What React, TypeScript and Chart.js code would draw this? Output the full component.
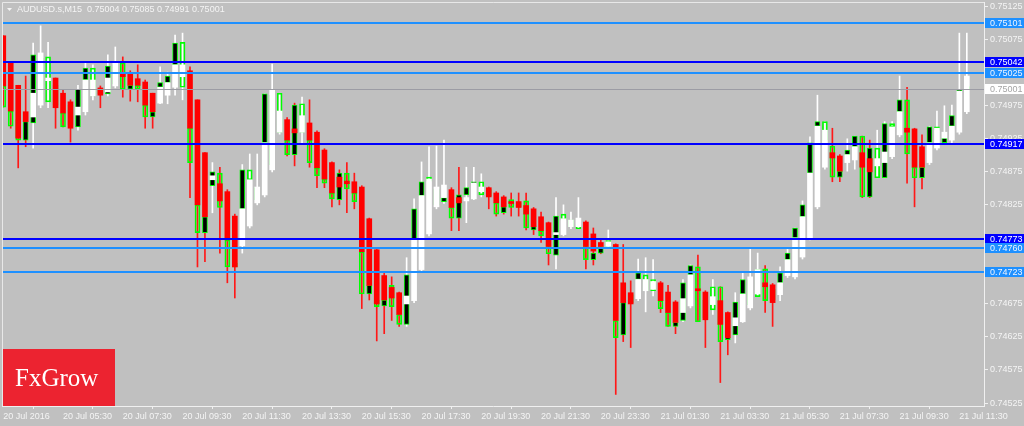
import React, { useEffect, useRef } from 'react';
import { Chart, registerables } from 'chart.js';

Chart.register(...registerables);

// ---------- DATA ----------
const headerSymbol = 'AUDUSD.s,M15';
const headerValues = [0.75004, 0.75085, 0.74991, 0.75001];

const xTickBars = [0, 8, 16, 24, 32, 40, 48, 56, 64, 72, 80, 88, 96, 104, 112, 120, 128];
const xTickLabels = [
  '20 Jul 2016', '20 Jul 05:30', '20 Jul 07:30', '20 Jul 09:30', '20 Jul 11:30', '20 Jul 13:30',
  '20 Jul 15:30', '20 Jul 17:30', '20 Jul 19:30', '20 Jul 21:30', '20 Jul 23:30', '21 Jul 01:30',
  '21 Jul 03:30', '21 Jul 05:30', '21 Jul 07:30', '21 Jul 09:30', '21 Jul 11:30',
];
const yTickValues = [
  0.74525, 0.74575, 0.74625, 0.74675, 0.74725, 0.74775, 0.74825, 0.74875, 0.74925,
  0.74975, 0.75025, 0.75075, 0.75125,
];

const levelValues = [0.75101, 0.75042, 0.75025, 0.75001, 0.74917, 0.74773, 0.7476, 0.74723];
const levelKinds = ['light', 'dark', 'light', 'bid', 'dark', 'dark', 'light', 'light'];

// Heiken-Ashi style bars (red / white)
const haOpen = [
  0.75081, 0.75041, 0.75006, 0.74966, 0.74958, 0.74976, 0.75013, 0.75017, 0.74994, 0.74981,
  0.74961, 0.74966, 0.7499, 0.75002, 0.74996, 0.75005, 0.75025, 0.75025, 0.75016, 0.75011,
  0.74994, 0.74979, 0.74991, 0.75003, 0.75019, 0.75028, 0.74984, 0.74904, 0.74863, 0.74857,
  0.74845, 0.74808, 0.74763, 0.74793, 0.74828, 0.7484, 0.74878, 0.74935, 0.74954, 0.7494,
  0.74935, 0.74949, 0.74935, 0.74908, 0.74889, 0.74867, 0.74861, 0.7486, 0.74852, 0.74804,
  0.74757, 0.74718, 0.747, 0.74692, 0.74675, 0.7468, 0.74727, 0.74781, 0.74822, 0.74836,
  0.74848, 0.74836, 0.74831, 0.74834, 0.74845, 0.74851, 0.74843, 0.74837, 0.7483, 0.7483,
  0.74824, 0.74819, 0.74807, 0.74798, 0.7478, 0.7478, 0.74792, 0.74792, 0.74799, 0.74781,
  0.74768, 0.74762, 0.74765, 0.74707, 0.74692, 0.74683, 0.74695, 0.74697, 0.74707, 0.74693,
  0.74678, 0.74662, 0.74672, 0.74698, 0.74693, 0.74674, 0.7468, 0.74662, 0.74642, 0.74648,
  0.74669, 0.7469, 0.74707, 0.74704, 0.74689, 0.74718, 0.74716, 0.74746, 0.74775, 0.74822,
  0.74882, 0.74904, 0.74899, 0.74889, 0.74893, 0.74904, 0.74895, 0.74884, 0.74889, 0.74898,
  0.74931, 0.74941, 0.7494, 0.74913, 0.74889, 0.74911, 0.74926, 0.74923, 0.74935, 0.74966,
];
const haClose = [
  0.75005, 0.74967, 0.74926, 0.74951, 0.74994, 0.75055, 0.75017, 0.74972, 0.74964, 0.74941,
  0.74973, 0.75014, 0.75014, 0.74991, 0.75017, 0.7504, 0.75019, 0.75006, 0.75006, 0.74976,
  0.74966, 0.75003, 0.7501, 0.75037, 0.75037, 0.74941, 0.74825, 0.74807, 0.74869, 0.74831,
  0.74772, 0.74731, 0.74819, 0.74863, 0.74852, 0.74919, 0.74999, 0.74967, 0.74923, 0.74934,
  0.7496, 0.74923, 0.74881, 0.74864, 0.74843, 0.74852, 0.74857, 0.74843, 0.74754, 0.74703,
  0.74675, 0.74681, 0.74684, 0.74659, 0.74687, 0.74772, 0.74839, 0.74864, 0.74852, 0.74855,
  0.74821, 0.74828, 0.74836, 0.74858, 0.74852, 0.74837, 0.74828, 0.74822, 0.74827, 0.74821,
  0.74811, 0.74792, 0.74786, 0.74762, 0.74783, 0.74804, 0.74802, 0.74805, 0.74762, 0.74755,
  0.74762, 0.74769, 0.7465, 0.74677, 0.74675, 0.74712, 0.74712, 0.74709, 0.7468, 0.74662,
  0.74647, 0.74683, 0.74719, 0.74695, 0.74651, 0.74686, 0.74644, 0.74624, 0.74654, 0.7469,
  0.74716, 0.74727, 0.74701, 0.74677, 0.74707, 0.74742, 0.74775, 0.74807, 0.74873, 0.74944,
  0.74938, 0.74896, 0.74876, 0.74901, 0.74913, 0.74882, 0.74875, 0.74895, 0.74905, 0.74943,
  0.74966, 0.74935, 0.74882, 0.74882, 0.74919, 0.74941, 0.74935, 0.74944, 0.74997, 0.7502,
];
const haHigh = [
  0.75081, 0.75041, 0.75006, 0.7502, 0.7507, 0.75096, 0.75071, 0.75017, 0.74999, 0.74984,
  0.75006, 0.7504, 0.75037, 0.75005, 0.75052, 0.75064, 0.75049, 0.75028, 0.75037, 0.75014,
  0.74994, 0.75034, 0.75026, 0.75082, 0.75085, 0.75034, 0.74984, 0.74904, 0.74889, 0.74882,
  0.74848, 0.74811, 0.74886, 0.74902, 0.74902, 0.74993, 0.75038, 0.74994, 0.74957, 0.74979,
  0.74988, 0.74984, 0.74937, 0.7491, 0.7489, 0.74878, 0.74889, 0.74873, 0.74854, 0.74805,
  0.74759, 0.74722, 0.74716, 0.74693, 0.74745, 0.74834, 0.7489, 0.74913, 0.74914, 0.74923,
  0.74851, 0.74882, 0.74882, 0.74882, 0.74872, 0.74852, 0.74845, 0.74839, 0.74843, 0.74843,
  0.74843, 0.74821, 0.74814, 0.74799, 0.74836, 0.74825, 0.74814, 0.74836, 0.74801, 0.7479,
  0.74772, 0.74787, 0.74766, 0.74765, 0.7471, 0.74743, 0.74745, 0.74742, 0.74709, 0.74703,
  0.7468, 0.74712, 0.74734, 0.74749, 0.74695, 0.74712, 0.74701, 0.74663, 0.74692, 0.74722,
  0.7476, 0.74752, 0.74733, 0.74706, 0.74731, 0.7476, 0.7479, 0.74831, 0.74928, 0.74991,
  0.74951, 0.74941, 0.74901, 0.74925, 0.74929, 0.74929, 0.74923, 0.74938, 0.74951, 0.74951,
  0.7502, 0.75003, 0.74941, 0.74931, 0.74944, 0.74967, 0.74975, 0.74976, 0.75085, 0.75085,
];
const haLow = [
  0.74973, 0.74941, 0.74881, 0.74913, 0.74911, 0.74972, 0.74972, 0.74941, 0.74943, 0.7492,
  0.74938, 0.74961, 0.74984, 0.74972, 0.7499, 0.75002, 0.74988, 0.74982, 0.74981, 0.74941,
  0.74941, 0.74978, 0.74978, 0.74991, 0.74984, 0.74836, 0.74731, 0.74739, 0.74813, 0.74752,
  0.74707, 0.74684, 0.74752, 0.7479, 0.74825, 0.74837, 0.74875, 0.74932, 0.74899, 0.74884,
  0.74916, 0.74882, 0.74851, 0.74851, 0.74822, 0.74825, 0.74813, 0.74819, 0.74668, 0.74681,
  0.74619, 0.7463, 0.7465, 0.74641, 0.74641, 0.74677, 0.74724, 0.74778, 0.74819, 0.74827,
  0.74786, 0.74786, 0.74798, 0.74833, 0.74837, 0.74819, 0.74808, 0.74811, 0.74808, 0.74808,
  0.74787, 0.7478, 0.74768, 0.74734, 0.74728, 0.74778, 0.74789, 0.74789, 0.74728, 0.74734,
  0.74751, 0.7476, 0.74538, 0.74618, 0.74609, 0.7468, 0.74663, 0.74687, 0.74662, 0.74641,
  0.7463, 0.74648, 0.74669, 0.74648, 0.74609, 0.74659, 0.74556, 0.74598, 0.74616, 0.74647,
  0.74666, 0.74686, 0.74662, 0.74641, 0.7468, 0.74715, 0.74713, 0.74743, 0.74772, 0.74819,
  0.74879, 0.7486, 0.7486, 0.74876, 0.74879, 0.74836, 0.74836, 0.74866, 0.74866, 0.74895,
  0.74928, 0.74858, 0.74822, 0.74849, 0.74886, 0.74908, 0.74919, 0.74919, 0.74932, 0.74963,
];

// Regular candles (green outline; filled when rising, hollow when falling)
const candleOpen = [
  0.75005, 0.74967, 0.74954, 0.74923, 0.74949, 0.74984, 0.75049, 0.75006, 0.74964, 0.74976,
  0.74943, 0.75014, 0.75032, 0.75, 0.74993, 0.75008, 0.7504, 0.75, 0.75006, 0.74976,
  0.74958, 0.75003, 0.7501, 0.75037, 0.75071, 0.74941, 0.74825, 0.74783, 0.74854, 0.74873,
  0.74772, 0.74731, 0.74819, 0.74878, 0.74833, 0.74919, 0.74886, 0.74994, 0.74923, 0.74901,
  0.74978, 0.74923, 0.74881, 0.74864, 0.74843, 0.74833, 0.74873, 0.74843, 0.74754, 0.7469,
  0.74681, 0.74672, 0.74703, 0.74659, 0.74644, 0.74772, 0.74839, 0.74867, 0.74825, 0.7483,
  0.74821, 0.74805, 0.7484, 0.74857, 0.7486, 0.74848, 0.74828, 0.74813, 0.74833, 0.74828,
  0.74831, 0.74787, 0.74786, 0.74762, 0.74749, 0.74811, 0.74802, 0.74792, 0.74762, 0.74742,
  0.74752, 0.74771, 0.7465, 0.74628, 0.74689, 0.74712, 0.74719, 0.74712, 0.7468, 0.74662,
  0.74641, 0.7465, 0.74719, 0.74731, 0.74681, 0.74701, 0.74701, 0.74621, 0.74628, 0.7469,
  0.74674, 0.74727, 0.74728, 0.74697, 0.74707, 0.74742, 0.74775, 0.74807, 0.74873, 0.74944,
  0.74951, 0.74914, 0.74867, 0.74901, 0.74913, 0.74929, 0.74837, 0.74911, 0.74866, 0.74948,
  0.74966, 0.74984, 0.74882, 0.74866, 0.74919, 0.74943, 0.74919, 0.74944, 0.74997, 0.75004,
];
const candleClose = [
  0.74973, 0.74944, 0.74923, 0.74951, 0.75052, 0.75047, 0.74981, 0.74976, 0.74943, 0.74946,
  0.75, 0.75032, 0.7499, 0.74993, 0.75035, 0.75037, 0.75, 0.75006, 0.75, 0.74958,
  0.74966, 0.7501, 0.7502, 0.7507, 0.75003, 0.74889, 0.74783, 0.74807, 0.74875, 0.74821,
  0.74731, 0.74737, 0.74878, 0.74863, 0.74851, 0.74993, 0.74991, 0.74935, 0.74901, 0.74976,
  0.74935, 0.74889, 0.74869, 0.74858, 0.74834, 0.74873, 0.74849, 0.7483, 0.7469, 0.74703,
  0.74671, 0.74681, 0.74671, 0.74644, 0.74719, 0.74819, 0.7486, 0.74861, 0.74849, 0.74836,
  0.74805, 0.7484, 0.74851, 0.7486, 0.7484, 0.74839, 0.74811, 0.74822, 0.74821, 0.74822,
  0.7479, 0.74792, 0.74778, 0.74751, 0.74808, 0.74802, 0.74792, 0.74789, 0.74742, 0.74752,
  0.74762, 0.7476, 0.74624, 0.74677, 0.74677, 0.74722, 0.74695, 0.74695, 0.74668, 0.74641,
  0.74647, 0.74707, 0.74733, 0.74648, 0.74654, 0.74666, 0.74618, 0.74624, 0.74678, 0.74712,
  0.74712, 0.74686, 0.7468, 0.74681, 0.74722, 0.74752, 0.7479, 0.74825, 0.74919, 0.74951,
  0.74923, 0.74867, 0.74876, 0.74908, 0.74929, 0.74837, 0.74911, 0.74866, 0.74948, 0.74943,
  0.74984, 0.74902, 0.74866, 0.74882, 0.74943, 0.74938, 0.74926, 0.7496, 0.75, 0.75001,
];

// ---------- STYLES ----------
const BG = '#C0C0C0';
const FG = '#F4F4F4';
const FONT = '"Liberation Sans", Arial, sans-serif';
const LEVEL_STYLES: Record<string, { line: string; width: number; box: string; text: string }> = {
  light: { line: '#1E90FF', width: 2, box: '#1E90FF', text: '#EEF4FF' },
  dark: { line: '#0000FF', width: 2, box: '#0000FF', text: '#FFFFFF' },
  bid: { line: '#9C9CA4', width: 1, box: '#FFFFFF', text: '#A4A4A4' },
};

const overlayPlugin = {
  id: 'mtOverlay',
  beforeDraw(chart: any) {
    const { ctx, width, height } = chart;
    ctx.save();
    ctx.fillStyle = BG;
    ctx.fillRect(0, 0, width, height);
    ctx.restore();
  },
  afterDatasetsDraw(chart: any) {
    const { ctx, chartArea, scales } = chart;
    const y = scales.y;
    ctx.save();
    levelValues.forEach((v, i) => {
      const st = LEVEL_STYLES[levelKinds[i]];
      const py = Math.round(y.getPixelForValue(v));
      const yy = st.width === 1 ? py + 0.5 : py;
      ctx.strokeStyle = st.line;
      ctx.lineWidth = st.width;
      ctx.beginPath();
      ctx.moveTo(chartArea.left, yy);
      ctx.lineTo(chartArea.right, yy);
      ctx.stroke();
    });
    // FxGrow logo
    ctx.fillStyle = '#EC2330';
    ctx.fillRect(chartArea.left + 1, 349, 112, chartArea.bottom - 349);
    ctx.fillStyle = '#FFFFFF';
    ctx.font = '25px "Liberation Serif", "Times New Roman", serif';
    ctx.textAlign = 'left';
    ctx.textBaseline = 'alphabetic';
    ctx.fillText('FxGrow', 15, 386);
    ctx.restore();
  },
  afterDraw(chart: any) {
    const { ctx, chartArea, scales, width } = chart;
    const y = scales.y;
    ctx.save();
    // frame top / left
    ctx.strokeStyle = '#E8E8E8';
    ctx.lineWidth = 1;
    ctx.beginPath();
    ctx.moveTo(chartArea.left + 0.5, chartArea.bottom);
    ctx.lineTo(chartArea.left + 0.5, chartArea.top + 0.5);
    ctx.lineTo(chartArea.right, chartArea.top + 0.5);
    ctx.stroke();
    // level labels on the price axis
    ctx.font = '9px ' + FONT;
    ctx.textAlign = 'left';
    ctx.textBaseline = 'middle';
    levelValues.forEach((v, i) => {
      const st = LEVEL_STYLES[levelKinds[i]];
      const py = Math.round(y.getPixelForValue(v));
      ctx.fillStyle = st.box;
      ctx.fillRect(chartArea.right + 1, py - 5, width - chartArea.right - 1, 10);
      ctx.fillStyle = st.text;
      ctx.fillText(v.toFixed(5), chartArea.right + 6, py + 0.5);
    });
    // header
    ctx.fillStyle = FG;
    ctx.beginPath();
    ctx.moveTo(7, 8);
    ctx.lineTo(12, 8);
    ctx.lineTo(9.5, 11);
    ctx.closePath();
    ctx.fill();
    ctx.fillText(headerSymbol + '  ' + headerValues.map((v) => v.toFixed(5)).join(' '), 17, 10);
    ctx.restore();
  },
};

export default function App() {
  const canvasRef = useRef<HTMLCanvasElement | null>(null);

  useEffect(() => {
    document.body.style.margin = '0';
    document.body.style.background = BG;
    const canvas = canvasRef.current;
    if (!canvas) return;

    const idx = haOpen.map((_, i) => i);
    const wickData = idx.map((i) => ({ x: i, y: [haLow[i], haHigh[i]] }));
    const candleData = idx.map((i) => ({ x: i, y: [candleOpen[i], candleClose[i]] }));
    const haData = idx.map((i) => ({ x: i, y: [haOpen[i], haClose[i]] }));
    const haUp = idx.map((i) => haClose[i] >= haOpen[i]);
    const cUp = idx.map((i) => candleClose[i] > candleOpen[i]);

    const chart = new Chart(canvas, {
      type: 'bar',
      data: {
        datasets: [
          {
            label: 'HA',
            data: haData as any,
            backgroundColor: haUp.map((u) => (u ? '#FFFFFF' : '#FF0000')),
            barThickness: 5,
            grouped: false,
            order: 1,
          } as any,
          {
            label: 'Candles',
            data: candleData as any,
            backgroundColor: cUp.map((u) => (u ? '#000000' : 'rgba(0,0,0,0)')),
            borderColor: '#00FF00',
            borderWidth: 1,
            borderSkipped: false,
            barThickness: 5,
            grouped: false,
            order: 2,
          } as any,
          {
            label: 'Wicks',
            data: wickData as any,
            backgroundColor: haUp.map((u) => (u ? '#FFFFFF' : '#FF1818')),
            barThickness: 1,
            grouped: false,
            order: 3,
          } as any,
        ],
      },
      options: {
        responsive: false,
        animation: false,
        devicePixelRatio: 1,
        layout: { padding: { left: 2, top: 2, right: 0, bottom: 0 } },
        plugins: { legend: { display: false }, tooltip: { enabled: false }, title: { display: false } },
        scales: {
          x: {
            type: 'linear',
            min: -0.17,
            max: 131.3,
            offset: false,
            grid: { display: true, drawOnChartArea: false, drawTicks: true, tickLength: 3, color: '#F0F0F0' },
            border: { display: true, color: '#F0F0F0', width: 1 },
            ticks: {
              autoSkip: false,
              maxRotation: 0,
              minRotation: 0,
              align: 'start',
              padding: 2,
              color: FG,
              font: { family: FONT, size: 9 },
              callback: (_v: any, i: number) => xTickLabels[i],
            },
            afterBuildTicks: (s: any) => {
              s.ticks = xTickBars.map((v) => ({ value: v }));
            },
            afterFit: (s: any) => {
              s.height = 20;
              s.paddingLeft = 0;
              s.paddingRight = 0;
            },
          } as any,
          y: {
            type: 'linear',
            position: 'right',
            min: 0.745205,
            max: 0.751321,
            beginAtZero: false,
            grid: { display: true, drawOnChartArea: false, drawTicks: true, tickLength: 4, color: '#F0F0F0' },
            border: { display: true, color: '#F0F0F0', width: 1 },
            ticks: {
              padding: 2,
              color: FG,
              font: { family: FONT, size: 9 },
              callback: (v: any) => Number(v).toFixed(5),
            },
            afterBuildTicks: (s: any) => {
              s.ticks = yTickValues.map((v) => ({ value: v }));
            },
            afterFit: (s: any) => {
              s.width = 40;
              s.paddingTop = 0;
              s.paddingBottom = 0;
            },
          } as any,
        },
      },
      plugins: [overlayPlugin],
    });

    return () => chart.destroy();
  }, []);

  return (
    <div style={{ width: 1024, height: 426, background: BG }}>
      <canvas ref={canvasRef} width={1024} height={426} style={{ display: 'block' }} />
    </div>
  );
}
